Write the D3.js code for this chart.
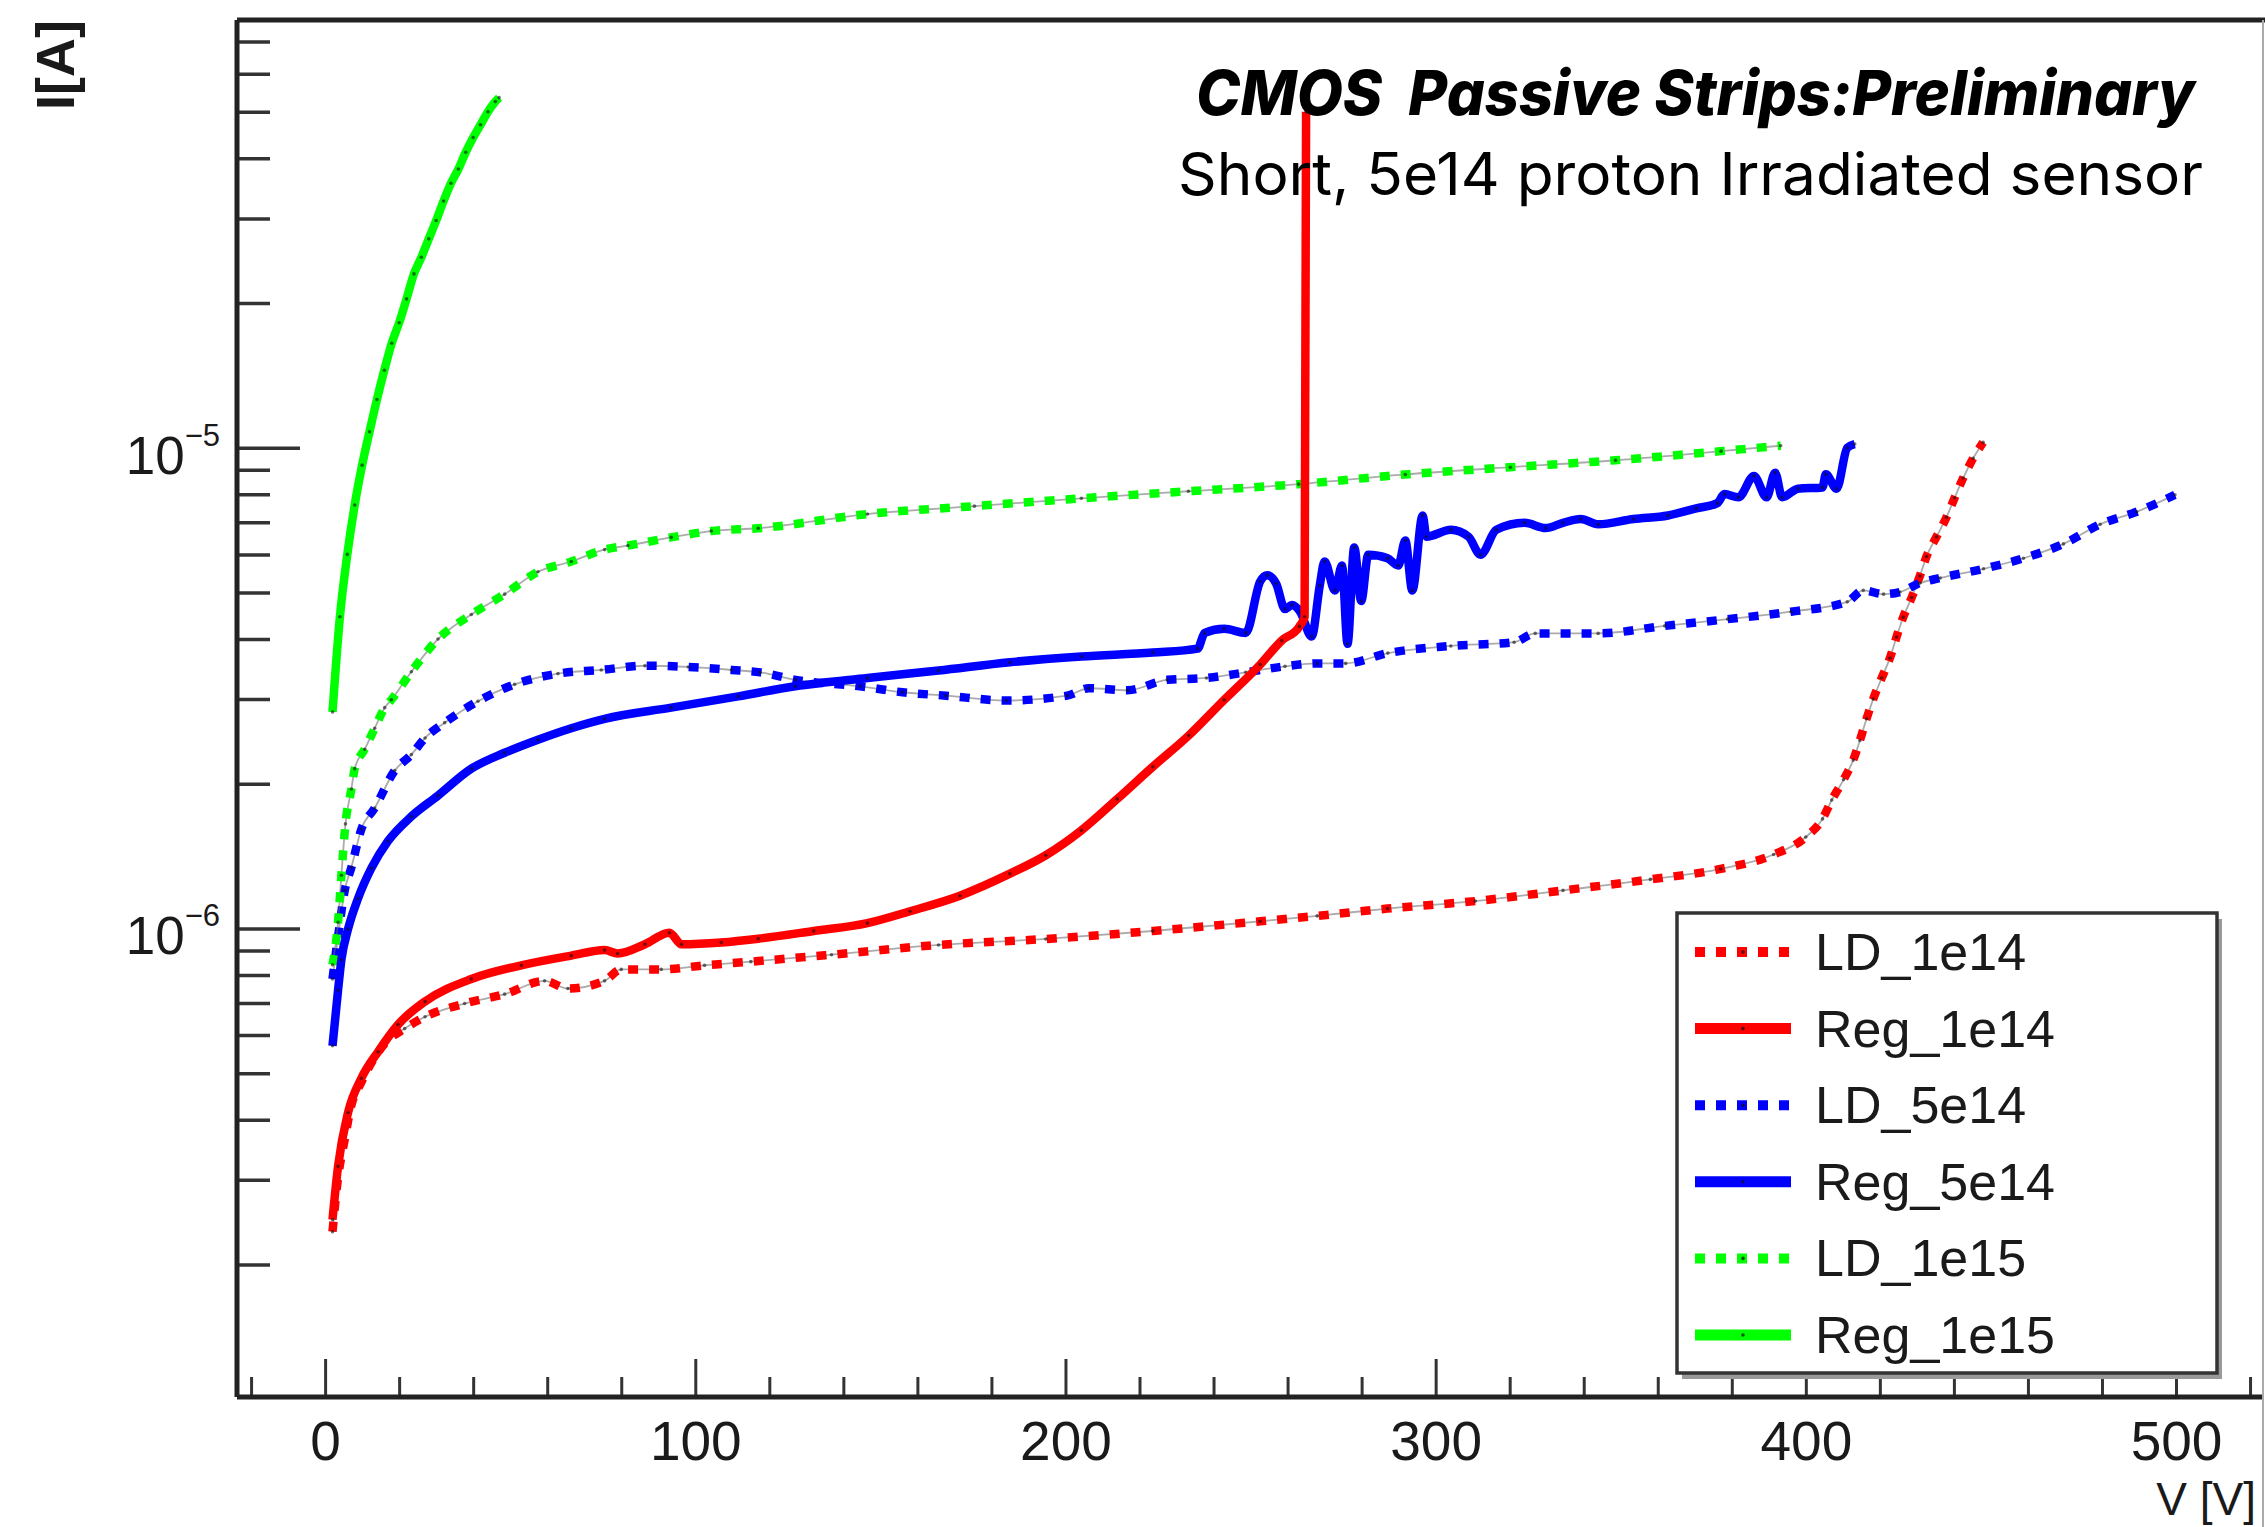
<!DOCTYPE html>
<html><head><meta charset="utf-8">
<script src="https://cdn.jsdelivr.net/npm/d3@7"></script>
<style>body{margin:0;background:#fff}svg{display:block}</style>
</head><body>
<svg id="chart" width="2265" height="1527"></svg>
<script>
// ---- data (V [V], I [A]) ----
const xMajorTicks = [0, 100, 200, 300, 400, 500];
const xMinorTicks = [-20, 20, 40, 60, 80, 120, 140, 160, 180, 220, 240, 260, 280, 320, 340, 360, 380, 420, 440, 460, 480, 520];
const yMajorTicks = [1e-6, 1e-5];
const yMajorLabels = ["−6", "−5"];
const seriesNames = ["LD_1e14", "Reg_1e14", "LD_5e14", "Reg_5e14", "LD_1e15", "Reg_1e15"];
const seriesColors = ["#ff0000", "#ff0000", "#0000ff", "#0000ff", "#00ff00", "#00ff00"];
const seriesDotted = [true, false, true, false, true, false];

const ld1e14 = [[2,2.34e-7],[3.5,3.03e-7],[5.3,3.64e-7],[7.1,4.29e-7],[9.8,4.79e-7],[12.5,5.25e-7],[16,5.75e-7],[21.5,6.19e-7],[27,6.55e-7],[37.7,6.98e-7],[48.5,7.30e-7],[59.3,7.78e-7],[65.6,7.50e-7],[75.5,7.78e-7],[80,8.22e-7],[90.8,8.22e-7],[102.5,8.38e-7],[115,8.53e-7],[136.8,8.82e-7],[165.7,9.24e-7],[194.7,9.51e-7],[223.6,9.88e-7],[252.6,1.035e-6],[268,1.062e-6],[287,1.10e-6],[310.7,1.14e-6],[334.4,1.20e-6],[358,1.265e-6],[377,1.33e-6],[391.3,1.425e-6],[400,1.55e-6],[404.5,1.69e-6],[407,1.85e-6],[410.2,2.04e-6],[412.8,2.24e-6],[414.6,2.46e-6],[416.4,2.73e-6],[418.2,3.0e-6],[420.5,3.32e-6],[422.7,3.65e-6],[424.5,4.04e-6],[426.3,4.44e-6],[428.6,4.88e-6],[430.8,5.41e-6],[432.6,5.94e-6],[435.3,6.53e-6],[438,7.17e-6],[440.2,7.87e-6],[442.5,8.65e-6],[445.2,9.51e-6],[447.9,1.026e-5]];
const reg1e14 = [[2,2.48e-7],[3.5,3.20e-7],[6.2,4.14e-7],[9.8,4.88e-7],[14.3,5.54e-7],[19.7,6.31e-7],[27,7.05e-7],[39.5,7.85e-7],[53,8.38e-7],[66.5,8.78e-7],[75.5,9.02e-7],[79,8.87e-7],[86.4,9.27e-7],[93,9.80e-7],[96.3,9.27e-7],[107,9.35e-7],[117,9.52e-7],[132,9.88e-7],[146.5,1.026e-6],[158,1.086e-6],[171.5,1.17e-6],[185,1.30e-6],[194.7,1.42e-6],[204.3,1.60e-6],[214,1.86e-6],[223.6,2.17e-6],[233.3,2.52e-6],[242.9,2.99e-6],[252.6,3.54e-6],[258.4,3.97e-6],[263.2,4.25e-6],[264.6,4.45e-6],[265,5.0e-5]];
const ld5e14 = [[2,7.85e-7],[3.5,9.62e-7],[5.3,1.20e-6],[7.1,1.34e-6],[9.8,1.61e-6],[13.4,1.78e-6],[18.8,2.13e-6],[23.3,2.30e-6],[27,2.49e-6],[32.3,2.68e-6],[41.3,2.97e-6],[51.2,3.22e-6],[62.9,3.39e-6],[74.6,3.45e-6],[86.4,3.52e-6],[98.1,3.50e-6],[109.8,3.45e-6],[117.5,3.41e-6],[127.1,3.29e-6],[144.5,3.19e-6],[156,3.10e-6],[167.7,3.05e-6],[184.1,2.98e-6],[200.5,3.05e-6],[206.3,3.16e-6],[216.8,3.13e-6],[227.5,3.29e-6],[238.1,3.32e-6],[248.7,3.41e-6],[259.3,3.51e-6],[268,3.56e-6],[275.7,3.56e-6],[287.1,3.74e-6],[304.1,3.87e-6],[321.2,3.94e-6],[326.9,4.11e-6],[343.9,4.11e-6],[361.9,4.26e-6],[378.9,4.40e-6],[396,4.56e-6],[411.2,4.78e-6],[415.5,5.05e-6],[421,4.96e-6],[425.4,5.01e-6],[430.8,5.23e-6],[436.3,5.36e-6],[448,5.60e-6],[458.8,5.89e-6],[469.6,6.31e-6],[479.5,6.93e-6],[489.4,7.36e-6],[499.7,7.98e-6]];
const reg5e14 = [[2,5.70e-7],[3.5,7.44e-7],[4.4,8.61e-7],[6.2,9.97e-7],[8.9,1.155e-6],[12.5,1.335e-6],[17,1.52e-6],[23.3,1.71e-6],[30.5,1.89e-6],[39.5,2.15e-6],[48.5,2.32e-6],[57.5,2.47e-6],[66.5,2.61e-6],[75.5,2.73e-6],[93.5,2.88e-6],[111.6,3.04e-6],[127,3.19e-6],[146.5,3.32e-6],[165.7,3.44e-6],[185,3.58e-6],[204.3,3.68e-6],[223.6,3.75e-6],[235.7,3.82e-6],[237.6,4.12e-6],[242.9,4.20e-6],[248.7,4.12e-6],[252.6,5.27e-6],[254.5,5.43e-6],[256.9,5.22e-6],[259.3,4.62e-6],[261.2,4.71e-6],[263.4,4.56e-6],[266.5,4.05e-6],[268.7,5.17e-6],[270,5.80e-6],[272.8,5.05e-6],[274.7,5.69e-6],[276.2,3.91e-6],[278,6.20e-6],[279.9,4.80e-6],[281.8,5.99e-6],[287,5.89e-6],[289.9,5.69e-6],[291.8,6.41e-6],[293.7,5.05e-6],[296.5,7.23e-6],[297.5,6.53e-6],[304.1,6.75e-6],[308.9,6.53e-6],[312.1,5.99e-6],[316.4,6.75e-6],[324,6.98e-6],[329.7,6.81e-6],[334.4,6.98e-6],[339.2,7.11e-6],[343.9,6.93e-6],[353.4,7.11e-6],[362.8,7.23e-6],[370.4,7.48e-6],[376.1,7.67e-6],[378,8.01e-6],[381.8,7.89e-6],[386,8.73e-6],[389.4,7.89e-6],[391.7,8.87e-6],[393.6,7.89e-6],[397.9,8.22e-6],[404.5,8.27e-6],[405.4,8.81e-6],[408.3,8.22e-6],[411.2,1.0e-5],[413.2,1.018e-5]];
const ld1e15 = [[2,8.4e-7],[3.5,1.03e-6],[4.4,1.29e-6],[5.5,1.65e-6],[7.1,1.95e-6],[8,2.15e-6],[10.7,2.36e-6],[13.4,2.61e-6],[16.1,2.88e-6],[17.9,2.99e-6],[23.3,3.42e-6],[30.5,4.0e-6],[39.5,4.50e-6],[48.5,4.96e-6],[57.5,5.52e-6],[66.5,5.80e-6],[75.5,6.14e-6],[81.8,6.26e-6],[93.5,6.51e-6],[104.3,6.71e-6],[117,6.80e-6],[146.5,7.28e-6],[175.4,7.56e-6],[204.3,7.85e-6],[233.2,8.12e-6],[263,8.40e-6],[291.8,8.80e-6],[320.2,9.11e-6],[348.6,9.42e-6],[377.1,9.84e-6],[393.2,1.01e-5]];
const reg1e15 = [[2,2.82e-6],[4,4.45e-6],[6,6.0e-6],[8,7.6e-6],[10,9.2e-6],[12,1.08e-5],[14,1.26e-5],[16,1.45e-5],[18,1.65e-5],[20,1.82e-5],[22,2.04e-5],[24,2.30e-5],[26,2.49e-5],[28,2.72e-5],[30,2.97e-5],[32,3.26e-5],[34,3.55e-5],[36,3.80e-5],[38,4.12e-5],[40,4.42e-5],[42,4.70e-5],[44,5.0e-5],[46,5.25e-5],[47,5.35e-5]];

const seriesData = [ld1e14, reg1e14, ld5e14, reg5e14, ld1e15, reg1e15];
const drawOrder = [0, 2, 4, 3, 5, 1];

// ---- layout ----
const L = 237, T = 20, R = 2263, B = 1397;
const svg = d3.select("#chart");
svg.append("rect").attr("width", 2265).attr("height", 1527).attr("fill", "#fff");

const x = d3.scaleLinear().domain([-23.8, 523.5]).range([L, R]);
const y = d3.scaleLog().domain([1.06e-7, 7.76e-5]).range([B, T]);

svg.append("defs").append("clipPath").attr("id", "plotclip")
  .append("rect").attr("x", L).attr("y", T).attr("width", R - L).attr("height", B - T);

const FONT = "'Liberation Sans', Arial, Helvetica, sans-serif";
const axisColor = "#333";

// x axis
const gxMinor = svg.append("g").attr("transform", `translate(0,${B})`)
  .call(d3.axisBottom(x).tickValues(xMinorTicks).tickSize(-20).tickFormat(""));
const gxMajor = svg.append("g").attr("transform", `translate(0,${B})`)
  .call(d3.axisBottom(x).tickValues(xMajorTicks).tickSize(-38).tickPadding(24).tickFormat(d3.format("d")));
[gxMinor, gxMajor].forEach(g => {
  g.select(".domain").remove();
  g.selectAll(".tick line").attr("stroke", axisColor).attr("stroke-width", 3);
});
gxMajor.selectAll(".tick text").attr("font-family", FONT).attr("font-size", 55).attr("fill", "#1a1a1a");

// y axis
const yMinorTicks = [];
[1e-7, 1e-6, 1e-5].forEach(dec => { for (let k = 2; k <= 9; k++) { const v = k * dec; if (v >= 1.06e-7 && v <= 7.76e-5) yMinorTicks.push(v); } });
const gyMinor = svg.append("g").attr("transform", `translate(${L},0)`)
  .call(d3.axisLeft(y).tickValues(yMinorTicks).tickSize(-33).tickFormat(""));
const gyMajor = svg.append("g").attr("transform", `translate(${L},0)`)
  .call(d3.axisLeft(y).tickValues(yMajorTicks).tickSize(-63).tickFormat(""));
[gyMinor, gyMajor].forEach(g => {
  g.select(".domain").remove();
  g.selectAll(".tick line").attr("stroke", axisColor).attr("stroke-width", 3.5);
});
yMajorTicks.forEach((v, i) => {
  const t = svg.append("text").attr("x", 220).attr("y", y(v) + 26)
    .attr("text-anchor", "end").attr("font-family", FONT).attr("fill", "#1a1a1a");
  t.append("tspan").attr("font-size", 53).text("10");
  t.append("tspan").attr("font-size", 31).attr("dy", -28).text(yMajorLabels[i]);
});

// frame
svg.append("line").attr("x1", L).attr("x2", L).attr("y1", T).attr("y2", B).attr("stroke", "#222").attr("stroke-width", 5);
svg.append("line").attr("x1", L).attr("x2", R).attr("y1", B).attr("y2", B).attr("stroke", "#222").attr("stroke-width", 5);
svg.append("line").attr("x1", L).attr("x2", 2265).attr("y1", T).attr("y2", T).attr("stroke", "#222").attr("stroke-width", 5);
svg.append("line").attr("x1", R).attr("x2", R).attr("y1", T).attr("y2", 1527).attr("stroke", "#aaa").attr("stroke-width", 2);

// series
const line = d3.line().x(d => x(d[0])).y(d => y(d[1])).curve(d3.curveMonotoneX);
const plot = svg.append("g").attr("clip-path", "url(#plotclip)");
drawOrder.forEach(i => {
  const data = seriesData[i];
  if (seriesDotted[i]) {
    plot.append("path").attr("d", line(data)).attr("fill", "none")
      .attr("stroke", "#666").attr("stroke-width", 1.8).attr("opacity", 0.55);
    plot.append("path").attr("d", line(data)).attr("fill", "none")
      .attr("stroke", seriesColors[i]).attr("stroke-width", 8.5)
      .attr("stroke-dasharray", "10 11").attr("stroke-linejoin", "round");
  } else {
    plot.append("path").attr("d", line(data)).attr("fill", "none")
      .attr("stroke", seriesColors[i]).attr("stroke-width", 8.5)
      .attr("stroke-linejoin", "round");
  }
  plot.append("g").selectAll("circle").data(data).join("circle")
    .attr("cx", d => x(d[0])).attr("cy", d => y(d[1])).attr("r", 1.8)
    .attr("fill", "#111").attr("opacity", 0.6);
});

// legend
const lg = { x: 1677, y: 913, w: 540, h: 460 };
svg.append("rect").attr("x", lg.x + 5).attr("y", lg.y + 6).attr("width", lg.w).attr("height", lg.h).attr("fill", "#999");
svg.append("rect").attr("x", lg.x).attr("y", lg.y).attr("width", lg.w).attr("height", lg.h)
  .attr("fill", "#fff").attr("stroke", "#333").attr("stroke-width", 3.5);
const rowY = d3.scaleLinear().domain([0, 5]).range([952, 1335]);
seriesNames.forEach((name, i) => {
  const cy = rowY(i);
  const ln = svg.append("line").attr("x1", 1695).attr("x2", 1791).attr("y1", cy).attr("y2", cy)
    .attr("stroke", seriesColors[i]);
  if (seriesDotted[i]) ln.attr("stroke-width", 10).attr("stroke-dasharray", "10 11");
  else ln.attr("stroke-width", 11);
  svg.append("circle").attr("cx", 1743).attr("cy", cy).attr("r", 1.8).attr("fill", "#111").attr("opacity", 0.7);
  svg.append("text").attr("x", 1815).attr("y", cy + 18).attr("font-family", FONT)
    .attr("font-size", 52).attr("fill", "#1a1a1a").text(name);
});

// axis titles
svg.append("text").attr("transform", `translate(74,${T}) rotate(-90)`).attr("text-anchor", "end")
  .attr("font-family", FONT).attr("font-size", 54).attr("font-weight", 600).attr("fill", "#1a1a1a").text("I[A]");
svg.append("text").attr("x", 2256).attr("y", 1515).attr("text-anchor", "end").attr("font-family", FONT)
  .attr("font-size", 46).attr("fill", "#1a1a1a").text("V [V]");

// annotation texts
svg.append("text").attr("x", 1196).attr("y", 115).attr("font-family", "Inter, 'Open Sans', sans-serif")
  .attr("font-size", 62).attr("font-weight", 800).attr("font-style", "italic").attr("fill", "#000")
  .attr("textLength", 999).attr("lengthAdjust", "spacingAndGlyphs").attr("xml:space", "preserve")
  .text("CMOS  Passive Strips:Preliminary");
svg.append("text").attr("x", 1178).attr("y", 195).attr("font-family", "Inter, 'Open Sans', sans-serif")
  .attr("font-size", 59).attr("font-weight", 400).attr("fill", "#000")
  .attr("textLength", 1025).attr("lengthAdjust", "spacingAndGlyphs")
  .text("Short, 5e14 proton Irradiated sensor");
</script>
</body></html>
